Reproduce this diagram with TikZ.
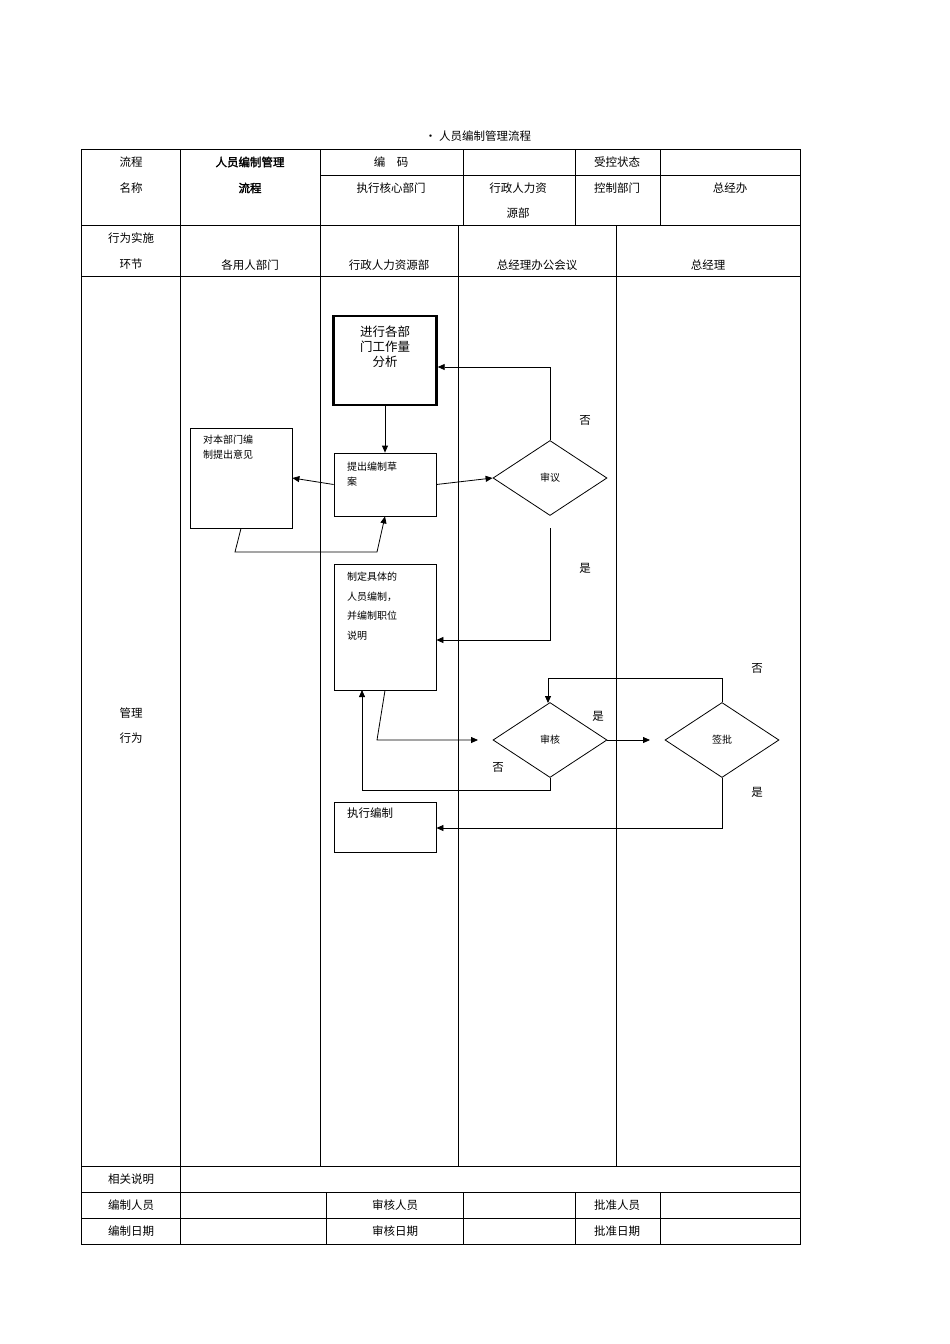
\documentclass[tikz,border=0pt]{standalone}
\usepackage{fontspec}
\setmainfont{Noto Sans CJK SC}
\newfontfamily\cjkb{Noto Sans CJK SC}[FakeBold=2]
\usetikzlibrary{arrows.meta,shapes.geometric}
\begin{document}
\begin{tikzpicture}[x=1pt,y=-1pt,
 ln/.style={line width=0.6pt},
 tb/.style={font=\fontsize{11.5}{14}\selectfont,inner sep=0pt},
 bx/.style={draw,line width=0.8pt,inner sep=0pt},
 bt/.style={font=\fontsize{10}{15}\selectfont,align=left,inner sep=0pt},
 dm/.style={draw,diamond,aspect=1.5,minimum width=114pt,minimum height=75pt,inner sep=0pt,line width=0.8pt,font=\fontsize{10}{12}\selectfont},
 ar/.style={-{Triangle[length=7pt,width=6pt]},line width=0.8pt},
 lb/.style={font=\fontsize{11.5}{14}\selectfont,inner sep=0pt}]
\useasboundingbox (0,0) rectangle (950,1344);
% table
\draw[ln] (81,149) rectangle (800,1244);
\draw[ln] (320,175)--(800,175);
\draw[ln] (81,225)--(800,225) (81,276)--(800,276) (81,1166)--(800,1166) (81,1192)--(800,1192) (81,1218)--(800,1218);
\draw[ln] (180,149)--(180,1192);
\draw[ln] (320,149)--(320,225) (463,149)--(463,225) (575,149)--(575,225) (660,149)--(660,225);
\draw[ln] (320,225)--(320,1166) (458,225)--(458,1166) (616,225)--(616,1166);
\draw[ln] (180,1192)--(180,1244) (326,1192)--(326,1244) (463,1192)--(463,1244) (575,1192)--(575,1244) (660,1192)--(660,1244);
\node[tb] (ti) at (478,136) {• 人员编制管理流程};
\node[tb] (h1) at (131,162) {流程};
\node[tb] (h2) at (131,188) {名称};
\node[tb] (h3) at (250,162) {\cjkb 人员编制管理};
\node[tb] (h4) at (250,188) {\cjkb 流程};
\node[tb] (h5) at (391,162) {编\quad 码};
\node[tb] (h6) at (617,162) {受控状态};
\node[tb] (h7) at (391,188) {执行核心部门};
\node[tb] (h8) at (518,188) {行政人力资};
\node[tb] (h9) at (518,213) {源部};
\node[tb] (h10) at (617,188) {控制部门};
\node[tb] (h11) at (730,188) {总经办};
\node[tb] (r1) at (131,238) {行为实施};
\node[tb] (r2) at (131,264) {环节};
\node[tb] (r3) at (250,265) {各用人部门};
\node[tb] (r4) at (389,265) {行政人力资源部};
\node[tb] (r5) at (537,265) {总经理办公会议};
\node[tb] (r6) at (708,265) {总经理};
\node[tb] (m1) at (131,713) {管理};
\node[tb] (m2) at (131,738) {行为};
\node[tb] (f1) at (131,1179) {相关说明};
\node[tb] (f2) at (131,1205) {编制人员};
\node[tb] (f3) at (395,1205) {审核人员};
\node[tb] (f4) at (617,1205) {批准人员};
\node[tb] (f5) at (131,1231) {编制日期};
\node[tb] (f6) at (395,1231) {审核日期};
\node[tb] (f7) at (617,1231) {批准日期};
% flow
\node[draw,line width=2.4pt,minimum width=103pt,minimum height=89pt,inner sep=0pt] (A) at (385,360.5) {};
\node[font=\fontsize{12.5}{15}\selectfont,align=center,inner sep=0pt] (At) at (385,347) {进行各部\\门工作量\\分析};
\node[bx,minimum width=102pt,minimum height=63pt] (B) at (385,484.5) {};
\node[bt,anchor=north west] (Bt) at (347,462) {提出编制草\\案};
\node[bx,minimum width=102pt,minimum height=100pt] (C) at (241,478) {};
\node[bt,anchor=north west] (Ct) at (203,435) {对本部门编\\制提出意见};
\node[dm] (D1) at (550,478) {审议};
\node[bx,minimum width=102pt,minimum height=126pt] (E) at (385,627) {};
\node[bt,anchor=north west,font=\fontsize{10}{19.5}\selectfont] (Et) at (347,572) {制定具体的\\人员编制，\\并编制职位\\说明};
\node[dm] (D2) at (550,740) {审核};
\node[dm] (D3) at (722,740) {签批};
\node[bx,minimum width=102pt,minimum height=50pt] (F) at (385,827) {};
\node[font=\fontsize{11.5}{14}\selectfont,anchor=north west,inner sep=0pt] (Ft) at (347,808) {执行编制};
\coordinate (g1) at (550,528);
\draw[ar] (B.west)--(C.east);
\draw[ar] (A.south)--(B.north);
\draw[ar] (C.south)--(235,552)--(377,552)--(B.south);
\draw[ar] (B.east)--(D1.west);
\draw[ar] (D1.north)--(550,367)--(A.east|-0,367);
\draw[ar] (g1)--(550,640)--(E.east|-0,640);
\draw[ar] (E.south)--(377,740)--(478,740);
\draw[ar] (D2.east)--(650,740);
\draw[ar] (D2.south)--(550,790)--(362,790)--(362,690);
\draw[ar] (D3.north)--(722,678)--(548,678)--(548,703);
\draw[ar] (D3.south)--(722,828)--(F.east|-0,828);
\node[lb] (n1) at (585,420) {否};
\node[lb] (n2) at (585,568) {是};
\node[lb] (n3) at (598,716) {是};
\node[lb] (n4) at (498,767) {否};
\node[lb] (n5) at (757,668) {否};
\node[lb] (n6) at (757,792) {是};
\end{tikzpicture}
\end{document}
